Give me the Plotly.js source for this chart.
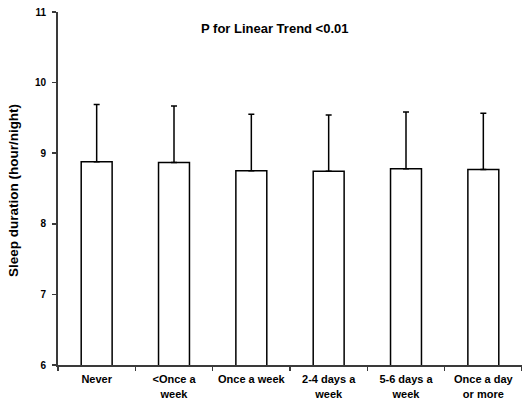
<!DOCTYPE html>
<html>
<head>
<meta charset="utf-8">
<script src="https://cdn.plot.ly/plotly-3.0.1.min.js"></script>
<style>html,body{margin:0;padding:0;background:#fff;}#chart{width:522px;height:406px;}</style>
</head>
<body>
<div id="chart"></div>
<script>
var categories = ["Never", "<Once a<br>week", "Once a week", "2-4 days a<br>week", "5-6 days a<br>week", "Once a day<br>or more"];
var meanSleep = [8.88, 8.87, 8.75, 8.745, 8.78, 8.77];
var sdSleep = [0.81, 0.80, 0.80, 0.795, 0.805, 0.795];
var yTicks = [6, 7, 8, 9, 10, 11];

var trace = {
  type: "bar",
  x: categories,
  y: meanSleep,
  width: 0.4,
  marker: {color: "#ffffff", line: {color: "#000000", width: 1.5}},
  error_y: {type: "data", symmetric: false, array: sdSleep, arrayminus: sdSleep.map(function(){return 0;}), color: "#000000", thickness: 1.5, width: 3},
  hoverinfo: "none"
};

var layout = {
  width: 522, height: 406,
  margin: {l: 58, r: 0, t: 12, b: 41, pad: 0},
  paper_bgcolor: "#ffffff", plot_bgcolor: "#ffffff",
  showlegend: false,
  font: {family: "Liberation Sans, Arial, sans-serif", color: "#000000"},
  xaxis: {
    type: "category", range: [-0.5, 5.5], tickson: "boundaries",
    showline: true, linecolor: "#3a3a3a", linewidth: 2,
    ticks: "outside", ticklen: 4, tickcolor: "#3a3a3a", tickwidth: 1.5,
    showgrid: false, zeroline: false, ticklabelstandoff: 3,
    tickfont: {size: 11, family: "Liberation Sans, Arial, sans-serif", weight: "bold"},
    fixedrange: true
  },
  yaxis: {
    range: [6, 11], tickvals: yTicks, ticktext: yTicks.map(String),
    showline: true, linecolor: "#3a3a3a", linewidth: 2,
    ticks: "outside", ticklen: 4, tickcolor: "#3a3a3a", tickwidth: 1.5,
    showgrid: false, zeroline: false, ticklabelstandoff: 4,
    tickfont: {size: 10, family: "Liberation Sans, Arial, sans-serif", weight: "bold"},
    fixedrange: true
  },
  annotations: [
    {text: "<b>P for Linear Trend <0.01</b>", xref: "paper", yref: "paper", x: 0.4677, y: 0.953, xanchor: "center", yanchor: "middle", showarrow: false, font: {size: 13}},
    {text: "<b>Sleep duration (hour/night)</b>", xref: "paper", yref: "paper", x: -0.0959, y: 0.494, xanchor: "center", yanchor: "middle", textangle: -90, showarrow: false, font: {size: 13.5}}
  ]
};

Plotly.newPlot("chart", [trace], layout, {displayModeBar: false, staticPlot: true});
</script>
</body>
</html>
